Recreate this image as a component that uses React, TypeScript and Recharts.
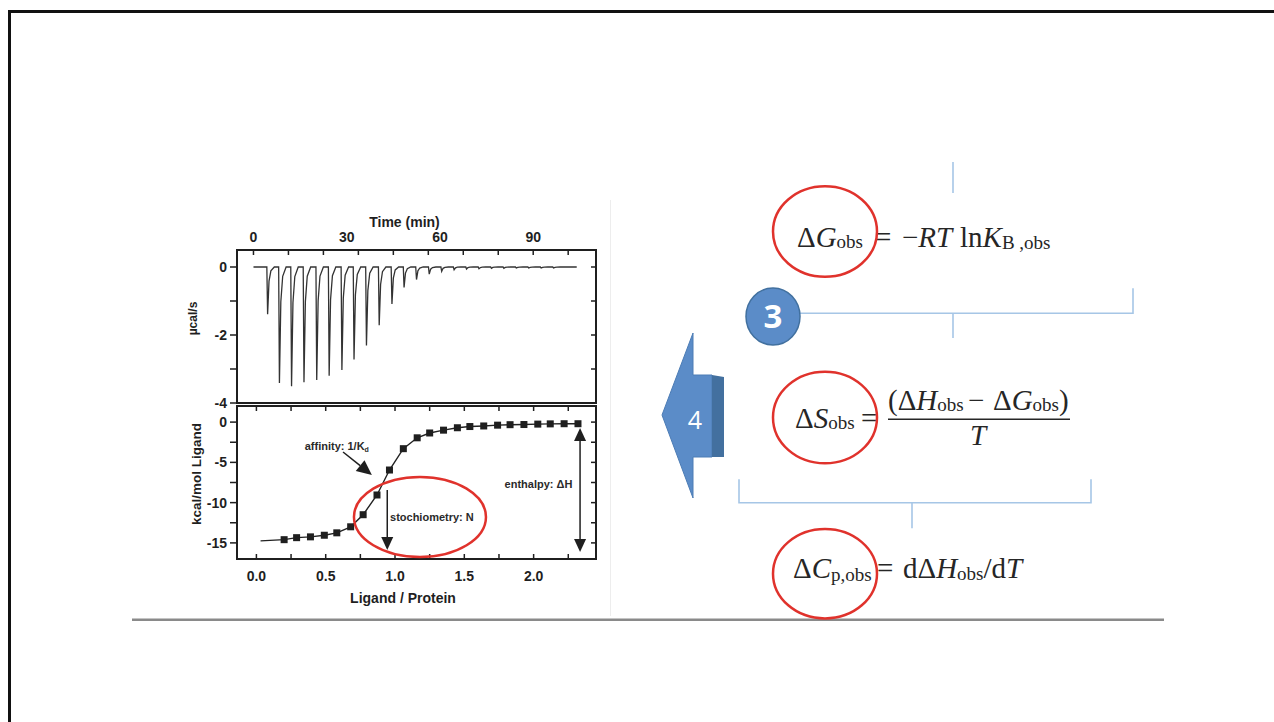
import React from "react";
import {
  ComposedChart,
  Line,
  Scatter,
  XAxis,
  YAxis,
  ReferenceArea,
  ReferenceDot,
  ReferenceLine,
} from "recharts";

// ---- top panel: raw thermogram ----
const injectionTimes = [
  4.3, 8.1, 12.0, 16.0, 20.1, 24.1, 28.2, 32.1, 36.1, 40.2, 44.3, 48.2, 52.2, 56.3, 60.3, 64.3, 68.3, 72.3,
  76.3, 80.3, 84.3, 88.3, 92.3, 96.3,
];
const peakPower = [
  -1.39, -3.41, -3.51, -3.39, -3.32, -3.2, -3.03, -2.72, -2.31, -1.71, -1.09, -0.6, -0.37, -0.21, -0.13,
  -0.08, -0.06, -0.05, -0.04, -0.04, -0.03, -0.03, -0.03, -0.03,
];
const runStart = 0;
const runEnd = 104;
const timeDomain = [-5.3, 110.2];
const powerDomain = [-4, 0.5];
const timeTicks = [0, 30, 60, 90];
const timeMarks = [0, 11.25, 22.5, 33.75, 45, 56.25, 67.5, 78.75, 90, 101.25];
const powerTicks = [-4, -3, -2, -1, 0];

// ---- bottom panel: integrated heats ----
const molarRatio = [
  0.2, 0.29, 0.39, 0.49, 0.58, 0.68, 0.77, 0.87, 0.96, 1.06, 1.16, 1.25, 1.35, 1.45, 1.54, 1.64, 1.74, 1.83,
  1.93, 2.03, 2.12, 2.22, 2.32,
];
const heatPerMol = [
  -14.6, -14.35, -14.25, -14.05, -13.75, -13.0, -11.5, -9.05, -5.95, -3.3, -1.95, -1.35, -1.0, -0.7, -0.55,
  -0.48, -0.38, -0.32, -0.3, -0.25, -0.22, -0.2, -0.2,
];
const fitStart = { x: 0.03, y: -14.75 };
const ratioDomain = [-0.14, 2.45];
const heatDomain = [-17, 2];
const ratioTicks = [0, 0.25, 0.5, 0.75, 1, 1.25, 1.5, 1.75, 2, 2.25];
const heatTicks = [-15, -12.5, -10, -7.5, -5, -2.5, 0];

const INK = "#1f1f1f";
const SANS = "'Liberation Sans', Arial, sans-serif";
const SERIF = "'Liberation Serif', 'Times New Roman', serif";
const tickFont = { fontFamily: SANS, fontWeight: 700, fontSize: 14, fill: INK };
const noteFont = { fontFamily: SANS, fontWeight: 700, fontSize: 11, fill: "#2a2a2a" };
const RED = "#e0322c";
const BLUE = "#5b8cc8";
const BRACKET = "#a6c6e6";

function thermogram() {
  const pts = [{ t: runStart, p: 0 }];
  injectionTimes.forEach((t, i) => {
    const d = peakPower[i];
    pts.push(
      { t, p: 0 },
      { t: t + 0.25, p: d },
      { t: t + 0.7, p: d * 0.3 },
      { t: t + 1.3, p: d * 0.08 },
      { t: t + 2.4, p: 0 }
    );
  });
  pts.push({ t: runEnd, p: 0 });
  return pts;
}

// inward tick marks drawn on the top / right frame of a panel
const topMark = (p: any) => {
  const y = Math.min(p.y1, p.y2);
  return <line x1={p.x1} x2={p.x1} y1={y} y2={y + 5} stroke={INK} strokeWidth={1.5} />;
};
const rightMark = (p: any) => {
  const x = Math.max(p.x1, p.x2);
  return <line x1={x} x2={x - 5} y1={p.y1} y2={p.y1} stroke={INK} strokeWidth={1.5} />;
};

function head(tx: number, ty: number, fx: number, fy: number, len: number, half: number) {
  const a = Math.atan2(ty - fy, tx - fx);
  const bx = tx - len * Math.cos(a);
  const by = ty - len * Math.sin(a);
  const nx = -Math.sin(a) * half;
  const ny = Math.cos(a) * half;
  return { bx, by, pts: `${tx},${ty} ${bx + nx},${by + ny} ${bx - nx},${by - ny}` };
}

const arrow = (both: boolean, len: number, half: number) => (p: any) => {
  const end = head(p.x2, p.y2, p.x1, p.y1, len, half);
  const start = both ? head(p.x1, p.y1, p.x2, p.y2, len, half) : null;
  return (
    <g>
      <line
        x1={start ? start.bx : p.x1}
        y1={start ? start.by : p.y1}
        x2={end.bx}
        y2={end.by}
        stroke={INK}
        strokeWidth={1.5}
      />
      <polygon points={end.pts} fill={INK} />
      {start && <polygon points={start.pts} fill={INK} />}
    </g>
  );
};

function ThermogramPanel() {
  const data = thermogram();
  return (
    <ComposedChart width={430} height={214} data={data} margin={{ top: 0, right: 14, bottom: 11, left: 0 }}>
      <XAxis
        dataKey="t"
        type="number"
        orientation="top"
        domain={timeDomain}
        allowDataOverflow
        ticks={timeTicks}
        interval={0}
        height={50}
        axisLine={false}
        tickLine={false}
        tickSize={0}
        tickMargin={8}
        tick={tickFont}
        label={{
          content: ({ viewBox }: any) => (
            <text
              x={viewBox.x + viewBox.width / 2 - 12}
              y={viewBox.y + 27}
              textAnchor="middle"
              style={{ fontFamily: SANS, fontWeight: 700, fontSize: 14, fill: INK }}
            >
              Time (min)
            </text>
          ),
        }}
      />
      <YAxis
        type="number"
        domain={powerDomain}
        allowDataOverflow
        ticks={powerTicks}
        interval={0}
        width={57}
        axisLine={false}
        tickSize={7}
        tickMargin={3}
        tickLine={{ stroke: INK, strokeWidth: 1.5 }}
        tick={tickFont}
        tickFormatter={(v: number) => (v % 2 === 0 ? String(v) : "")}
        label={{
          content: ({ viewBox }: any) => {
            const cx = viewBox.x + 13;
            const cy = viewBox.y + viewBox.height / 2 - 8;
            return (
              <text
                x={cx}
                y={cy}
                textAnchor="middle"
                dominantBaseline="central"
                transform={`rotate(-90, ${cx}, ${cy})`}
                style={{ fontFamily: SANS, fontWeight: 700, fontSize: 12, fill: INK }}
              >
                µcal/s
              </text>
            );
          },
        }}
      />
      <ReferenceArea
        x1={timeDomain[0]}
        x2={timeDomain[1]}
        y1={powerDomain[0]}
        y2={powerDomain[1]}
        fill="none"
        stroke={INK}
        strokeWidth={2}
        ifOverflow="visible"
      />
      {timeMarks.map((t) => (
        <ReferenceLine key={`tm${t}`} x={t} shape={topMark} />
      ))}
      {powerTicks.map((v) => (
        <ReferenceLine key={`pm${v}`} y={v} shape={rightMark} />
      ))}
      <Line
        type="linear"
        dataKey="p"
        stroke="#333"
        strokeWidth={1.3}
        dot={false}
        isAnimationActive={false}
      />
    </ComposedChart>
  );
}

function IsothermPanel() {
  const points = molarRatio.map((x, i) => ({ x, y: heatPerMol[i] }));
  const fit = [fitStart, ...points];
  return (
    <ComposedChart width={430} height={209} margin={{ top: 6, right: 14, bottom: 0, left: 0 }}>
      <XAxis
        dataKey="x"
        type="number"
        domain={ratioDomain}
        allowDataOverflow
        ticks={ratioTicks}
        interval={0}
        height={50}
        axisLine={false}
        tickSize={-5}
        tickMargin={17}
        tickLine={{ stroke: INK, strokeWidth: 1.5 }}
        tick={tickFont}
        tickFormatter={(v: number) => (Math.abs(v * 2 - Math.round(v * 2)) < 1e-6 ? v.toFixed(1) : "")}
        label={{
          content: ({ viewBox }: any) => (
            <text
              x={viewBox.x + viewBox.width / 2 - 13.5}
              y={viewBox.y + 44}
              textAnchor="middle"
              style={{ fontFamily: SANS, fontWeight: 700, fontSize: 14, fill: INK }}
            >
              Ligand / Protein
            </text>
          ),
        }}
      />
      <YAxis
        dataKey="y"
        type="number"
        domain={heatDomain}
        allowDataOverflow
        ticks={heatTicks}
        interval={0}
        width={57}
        axisLine={false}
        tickSize={7}
        tickMargin={3}
        tickLine={{ stroke: INK, strokeWidth: 1.5 }}
        tick={tickFont}
        tickFormatter={(v: number) => (v % 5 === 0 ? String(v) : "")}
        label={{
          content: ({ viewBox }: any) => {
            const cx = viewBox.x + 16;
            const cy = viewBox.y + 68;
            return (
              <text
                x={cx}
                y={cy}
                textAnchor="middle"
                dominantBaseline="central"
                transform={`rotate(-90, ${cx}, ${cy})`}
                style={{ fontFamily: SANS, fontWeight: 700, fontSize: 13.5, fill: INK }}
              >
                kcal/mol Ligand
              </text>
            );
          },
        }}
      />
      <ReferenceArea
        x1={ratioDomain[0]}
        x2={ratioDomain[1]}
        y1={heatDomain[0]}
        y2={heatDomain[1]}
        fill="none"
        stroke={INK}
        strokeWidth={2}
        ifOverflow="visible"
      />
      {ratioTicks.map((r) => (
        <ReferenceLine key={`rm${r}`} x={r} shape={topMark} />
      ))}
      {heatTicks.map((v) => (
        <ReferenceLine key={`hm${v}`} y={v} shape={rightMark} />
      ))}
      <Line
        data={fit}
        type="linear"
        dataKey="y"
        stroke="#222"
        strokeWidth={1.4}
        dot={false}
        isAnimationActive={false}
      />
      <Scatter
        data={points}
        dataKey="y"
        isAnimationActive={false}
        shape={(p: any) => <rect x={p.cx - 3.5} y={p.cy - 3.5} width={7} height={7} fill={INK} />}
      />
      {/* annotations */}
      <ReferenceDot
        x={0.58}
        y={-2.97}
        r={0}
        shape={(p: any) => (
          <text x={p.cx} y={p.cy} textAnchor="middle" dominantBaseline="central" style={noteFont}>
            affinity: 1/K
            <tspan fontSize={7} dy={3}>
              d
            </tspan>
          </text>
        )}
      />
      <ReferenceLine
        segment={[
          { x: 0.625, y: -3.71 },
          { x: 0.833, y: -6.57 },
        ]}
        shape={arrow(false, 15, 7)}
      />
      <ReferenceLine
        segment={[
          { x: 0.944, y: -8.43 },
          { x: 0.944, y: -15.88 },
        ]}
        shape={arrow(false, 13, 6)}
      />
      <ReferenceDot
        x={0.964}
        y={-11.75}
        r={0}
        shape={(p: any) => (
          <text x={p.cx} y={p.cy} textAnchor="start" dominantBaseline="central" style={noteFont}>
            stochiometry: N
          </text>
        )}
      />
      <ReferenceLine
        segment={[
          { x: 2.335, y: -0.73 },
          { x: 2.335, y: -16.13 },
        ]}
        shape={arrow(true, 13, 6)}
      />
      <ReferenceDot
        x={2.28}
        y={-7.69}
        r={0}
        shape={(p: any) => (
          <text x={p.cx} y={p.cy} textAnchor="end" dominantBaseline="central" style={noteFont}>
            enthalpy: ΔH
          </text>
        )}
      />
      <ReferenceDot
        x={1.18}
        y={-11.78}
        r={0}
        shape={(p: any) => (
          <ellipse cx={p.cx} cy={p.cy} rx={66} ry={40} fill="none" stroke={RED} strokeWidth={2.5} />
        )}
      />
    </ComposedChart>
  );
}

function SlideOverlay() {
  const f = { fontFamily: SERIF, fontSize: 29, fill: "#262626" };
  return (
    <svg
      width={1274}
      height={722}
      style={{ position: "absolute", left: 0, top: 0, pointerEvents: "none" }}
    >
      {/* slide frame */}
      <line x1={8} y1={11.5} x2={1274} y2={11.5} stroke="#111" strokeWidth={3} />
      <line x1={9.5} y1={10} x2={9.5} y2={722} stroke="#111" strokeWidth={3} />
      <line x1={610.5} y1={200} x2={610.5} y2={616} stroke="#ededed" strokeWidth={1} />
      <line x1={132} y1={619.7} x2={1164} y2={619.7} stroke="#8a8a8a" strokeWidth={2.6} />

      {/* brackets */}
      <g stroke={BRACKET} strokeWidth={1.6} fill="none">
        <line x1={953} y1={162} x2={953} y2={193} />
        <polyline points="775,313.3 1133,313.3 1133,288.3" />
        <line x1={953} y1={313.3} x2={953} y2={338} />
        <polyline points="739,479.3 739,502.7 1091,502.7 1091,479.3" />
        <line x1={912} y1={502.7} x2={912} y2={528.3} />
      </g>

      {/* step 3 badge */}
      <ellipse cx={773} cy={316.5} rx={27} ry={28.5} fill={BLUE} stroke="#41709f" strokeWidth={1.5} />
      <text
        x={773}
        y={328}
        textAnchor="middle"
        style={{ fontFamily: "'Open Sans', 'Liberation Sans', sans-serif", fontWeight: 700, fontSize: 33, fill: "#fff" }}
      >
        3
      </text>

      {/* step 4 arrow */}
      <polygon points="662,415 693,333 693,375 712,375 712,457 693,457 693,498" fill={BLUE} stroke="#4c7cb5" strokeWidth={1} />
      <polygon points="712,375 724,377 724,457 712,457" fill="#43709f" />
      <text
        x={695}
        y={429}
        textAnchor="middle"
        style={{ fontFamily: "'Open Sans', 'Liberation Sans', sans-serif", fontSize: 25, fill: "#fff" }}
      >
        4
      </text>

      {/* ΔG */}
      <text y={247} style={f}>
        <tspan x={797}>Δ</tspan>
        <tspan fontStyle="italic">G</tspan>
        <tspan fontSize={19} dy={1}>
          obs
        </tspan>
        <tspan x={875} dy={-1}>
          =
        </tspan>
        <tspan x={902}>−</tspan>
        <tspan fontStyle="italic">RT</tspan>
        <tspan x={960}>ln</tspan>
        <tspan fontStyle="italic">K</tspan>
        <tspan fontSize={19} dy={2}>
          B ,obs
        </tspan>
      </text>
      <ellipse cx={825} cy={231.5} rx={52} ry={45.3} fill="none" stroke={RED} strokeWidth={2.5} />

      {/* ΔS */}
      <text y={428} style={f}>
        <tspan x={795}>Δ</tspan>
        <tspan fontStyle="italic">S</tspan>
        <tspan fontSize={19} dy={1}>
          obs
        </tspan>
        <tspan x={861} dy={-1}>
          =
        </tspan>
      </text>
      <text y={410} style={f}>
        <tspan x={888}>(Δ</tspan>
        <tspan fontStyle="italic">H</tspan>
        <tspan fontSize={19} dy={1}>
          obs
        </tspan>
        <tspan x={968} dy={-1}>
          −
        </tspan>
        <tspan x={993}>Δ</tspan>
        <tspan fontStyle="italic">G</tspan>
        <tspan fontSize={19} dy={1}>
          obs
        </tspan>
        <tspan dy={-1}>)</tspan>
      </text>
      <line x1={888} y1={419.3} x2={1070} y2={419.3} stroke="#262626" strokeWidth={1.5} />
      <text x={978} y={445} textAnchor="middle" style={{ ...f, fontStyle: "italic" }}>
        T
      </text>
      <ellipse cx={825} cy={417.5} rx={52} ry={45.8} fill="none" stroke={RED} strokeWidth={2.5} />

      {/* ΔCp */}
      <text y={578} style={f}>
        <tspan x={793}>Δ</tspan>
        <tspan fontStyle="italic">C</tspan>
        <tspan fontSize={19} dy={3}>
          p,obs
        </tspan>
        <tspan x={877} dy={-3}>
          =
        </tspan>
        <tspan x={903}>dΔ</tspan>
        <tspan fontStyle="italic">H</tspan>
        <tspan fontSize={19} dy={2}>
          obs
        </tspan>
        <tspan dy={-2}>/d</tspan>
        <tspan fontStyle="italic">T</tspan>
      </text>
      <ellipse cx={825} cy={573.7} rx={52} ry={44.7} fill="none" stroke={RED} strokeWidth={2.5} />
    </svg>
  );
}

export default function App() {
  return (
    <div
      style={{
        position: "absolute",
        left: 0,
        top: 0,
        width: 1274,
        height: 722,
        background: "#fff",
        overflow: "hidden",
      }}
    >
      <div style={{ position: "absolute", left: 180, top: 200 }}>
        <ThermogramPanel />
      </div>
      <div style={{ position: "absolute", left: 180, top: 400 }}>
        <IsothermPanel />
      </div>
      <SlideOverlay />
    </div>
  );
}
